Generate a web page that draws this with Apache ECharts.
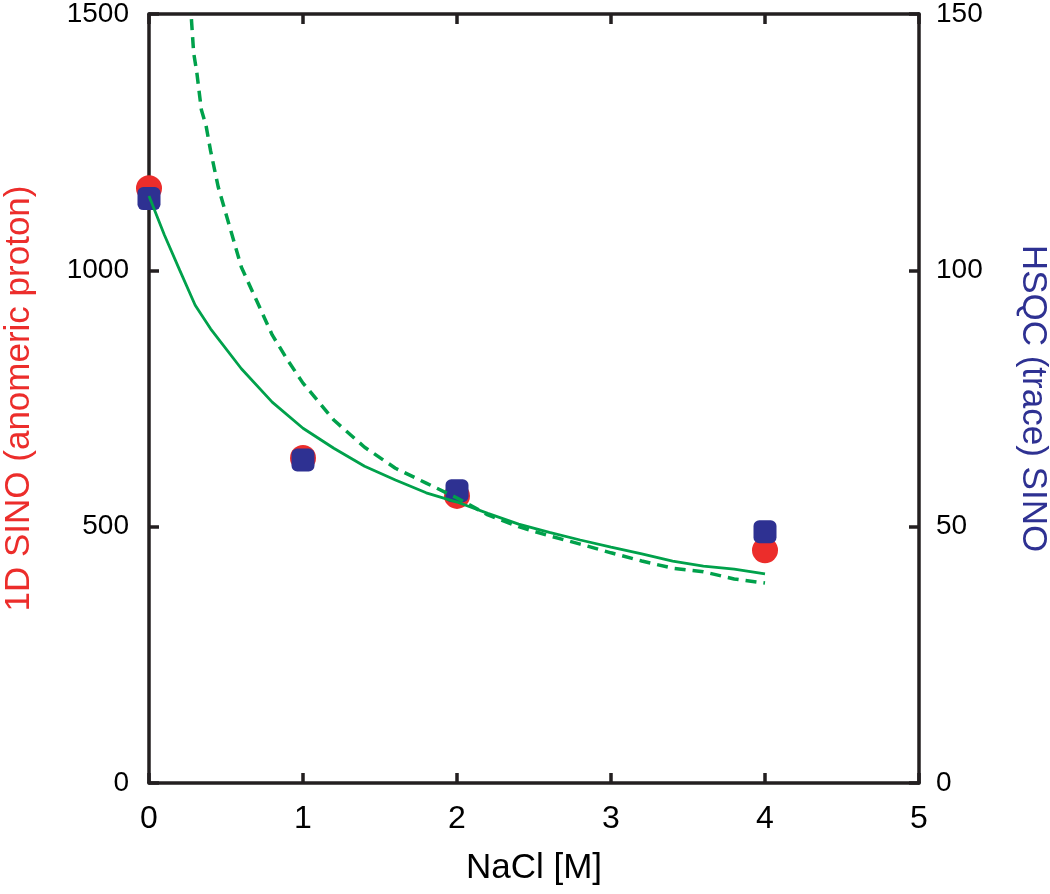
<!DOCTYPE html>
<html>
<head>
<meta charset="utf-8">
<script src="https://cdn.jsdelivr.net/npm/echarts@6/dist/echarts.min.js"></script>
<style>html,body{margin:0;padding:0;background:#fff}#c{width:1050px;height:894px}</style>
</head>
<body>
<div id="c"></div>
<script>
// NaCl concentrations of measured points [M]
const naclPoints = [0, 1, 2, 4];
// 1D SINO (anomeric proton) - left axis
const sino1D = [1160, 634, 560, 454];
// HSQC (trace) SINO - right axis
const sinoHSQC = [114, 63, 57, 49];
// Solid fit curve (left axis)
const fitSolidX = [0, 0.1, 0.2, 0.3, 0.4, 0.6, 0.8, 1.0, 1.2, 1.4, 1.6, 1.8, 2.0, 2.2, 2.4, 2.6, 2.8, 3.0, 3.2, 3.4, 3.6, 3.8, 4.0];
const fitSolidY = [1145, 1069, 1000, 932, 886, 808, 743, 692, 653, 618, 591, 566, 548, 526, 505, 489, 474, 460, 447, 433, 423, 417, 408];
// Dashed fit curve (left axis)
const fitDashX = [0.26, 0.29, 0.31, 0.34, 0.37, 0.4, 0.45, 0.5, 0.6, 0.7, 0.8, 0.9, 1.0, 1.2, 1.4, 1.6, 1.8, 2.0, 2.2, 2.4, 2.6, 2.8, 3.0, 3.2, 3.4, 3.6, 3.8, 4.0];
const fitDashY = [1560, 1424, 1387, 1313, 1283, 1233, 1162, 1110, 1006, 940, 874, 825, 780, 708, 655, 614, 585, 556, 523, 500, 482, 466, 449, 433, 419, 412, 398, 390];
// Axis ticks
const xTicks = [0, 1, 2, 3, 4, 5];
const yLeftTicks = [0, 500, 1000, 1500];
const yRightTicks = [0, 50, 100, 150];

const RED = '#ec2d2b', NAVY = '#2e3192', GREEN = '#00a14b', AX = '#231f20';
const FONT = '"Liberation Sans", Arial, sans-serif';

const zip = (xs, ys) => xs.map((x, i) => [x, ys[i]]);
const plain = v => String(v);

const axisLine = {show: true, onZero: false, lineStyle: {color: AX, width: 3.5}};
const axisTick = {show: true, inside: true, length: 10, lineStyle: {color: AX, width: 3.5}};

const chart = echarts.init(document.getElementById('c'), null, {renderer: 'canvas'});
chart.setOption({
  animation: false,
  backgroundColor: '#fff',
  grid: {left: 149, right: 131, top: 14, bottom: 111, containLabel: false, outerBoundsMode: 'none'},
  xAxis: [
    {
      type: 'value', position: 'bottom', min: xTicks[0], max: xTicks[xTicks.length - 1], interval: 1,
      axisLine, axisTick, splitLine: {show: false},
      axisLabel: {color: '#000', fontFamily: FONT, fontSize: 32, margin: 20, formatter: plain},
      name: 'NaCl [M]', nameLocation: 'middle', nameGap: 68,
      nameTextStyle: {color: '#000', fontFamily: FONT, fontSize: 35}
    },
    {
      type: 'value', position: 'top', min: xTicks[0], max: xTicks[xTicks.length - 1], interval: 1,
      axisLine, axisTick, splitLine: {show: false}, axisLabel: {show: false}
    }
  ],
  yAxis: [
    {
      type: 'value', position: 'left', min: yLeftTicks[0], max: yLeftTicks[yLeftTicks.length - 1], interval: 500,
      axisLine, axisTick, splitLine: {show: false},
      axisLabel: {color: '#000', fontFamily: FONT, fontSize: 28, margin: 20, formatter: plain},
      name: '1D SINO (anomeric proton)', nameLocation: 'middle', nameGap: 112,
      nameTextStyle: {color: RED, fontFamily: FONT, fontSize: 35}
    },
    {
      type: 'value', position: 'right', min: yRightTicks[0], max: yRightTicks[yRightTicks.length - 1], interval: 50,
      axisLine, axisTick, splitLine: {show: false},
      axisLabel: {color: '#000', fontFamily: FONT, fontSize: 28, margin: 17, formatter: plain},
      name: 'HSQC (trace) SINO', nameLocation: 'middle', nameGap: 96, nameRotate: -90,
      nameTextStyle: {color: NAVY, fontFamily: FONT, fontSize: 35}
    }
  ],
  series: [
    {
      type: 'scatter', xAxisIndex: 0, yAxisIndex: 0, symbol: 'circle', symbolSize: 26,
      itemStyle: {color: RED, opacity: 1}, data: zip(naclPoints, sino1D), z: 2
    },
    {
      type: 'scatter', xAxisIndex: 0, yAxisIndex: 1, symbol: 'roundRect', symbolSize: 23,
      itemStyle: {color: NAVY, opacity: 1}, data: zip(naclPoints, sinoHSQC), z: 3
    },
    {
      type: 'line', xAxisIndex: 0, yAxisIndex: 0, showSymbol: false, symbol: 'none', clip: true,
      lineStyle: {color: GREEN, width: 2.8, type: 'solid'}, data: zip(fitSolidX, fitSolidY), z: 4
    },
    {
      type: 'line', xAxisIndex: 0, yAxisIndex: 0, showSymbol: false, symbol: 'none', clip: true,
      lineStyle: {color: GREEN, width: 3.5, type: [11, 7]}, data: zip(fitDashX, fitDashY), z: 4
    }
  ]
});
</script>
</body>
</html>
